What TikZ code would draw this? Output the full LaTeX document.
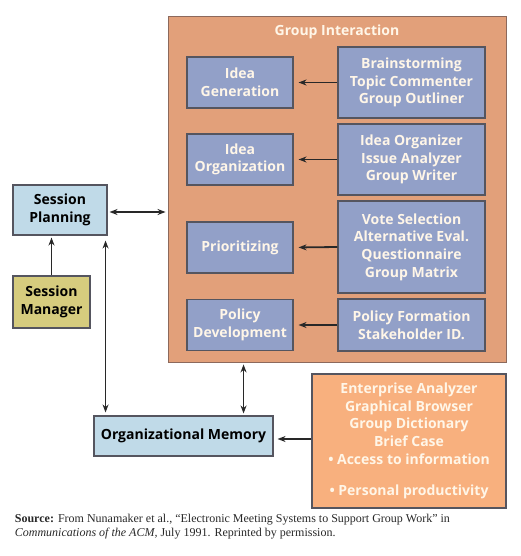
\documentclass[tikz,border=0pt]{standalone}
\usepackage{fontspec}
\setmainfont{Open Sans}
\newfontfamily\srcfont{Liberation Serif}
\usetikzlibrary{arrows.meta,calc,positioning}
\definecolor{fg}{RGB}{40,40,40}
\definecolor{grpfill}{RGB}{226,160,122}
\definecolor{grpedge}{RGB}{140,105,92}
\definecolor{toolblue}{RGB}{146,160,200}
\definecolor{edge}{RGB}{85,85,95}
\definecolor{planblue}{RGB}{192,218,232}
\definecolor{mgrkhaki}{RGB}{214,204,126}
\definecolor{entorange}{RGB}{248,176,126}
\definecolor{cream}{RGB}{255,246,232}
\tikzset{
  every picture/.style={fg, line width=1.8pt, x=1pt, y=-1pt,
    >={Stealth[length=8pt,width=6pt]}},
  % Kästen
  box/.style={draw=edge, line width=1.1pt, align=center, inner sep=0pt,
    font=\bfseries\fontsize{14}{17.7}\selectfont},
  act/.style={box, fill=toolblue, text=cream, minimum width=106pt, minimum height=51pt},
  tools/.style={box, fill=toolblue, text=cream, minimum width=147pt, minimum height=#1},
  tools/.default=71pt,
  plain/.style={box, text=black},
  % Verbindungen
  link/.style={line width=1.8pt, fg},
}

\begin{document}
\begin{tikzpicture}
  \useasboundingbox (0,0) rectangle (520,556);
  % Gruppeninteraktion
  \node[draw=grpedge, fill=grpfill, line width=0.9pt, minimum width=338pt, minimum height=346pt,
    inner sep=0pt] (grp) at (337,189) {};
  \node[text=cream, font=\bfseries\fontsize{14}{16}\selectfont] (grptitle) at (337,32) {Group Interaction};
  \node[act] (gen) at (240,82.5) {Idea\\Generation};
  \node[act] (org) at (240,159.5) {Idea\\Organization};
  \node[act] (pri) at (240,247.5) {Prioritizing};
  \node[act] (pol) at (240,325) {Policy\\Development};
  \node[tools] (brain) at (411.5,82.5) {Brainstorming\\Topic Commenter\\Group Outliner};
  \node[tools] (issue) at (411.5,159.5) {Idea Organizer\\Issue Analyzer\\Group Writer};
  \node[tools=92pt] (vote) at (411.5,247) {Vote Selection\\Alternative Eval.\\Questionnaire\\Group Matrix};
  \node[tools=52pt] (form) at (411.5,325) {Policy Formation\\Stakeholder ID.};
  \foreach \s/\t in {brain/gen, issue/org, vote/pri, form/pol}
    \draw[link, ->, shorten >=5pt] (\s.west) -- (\t.east);
  % linke Seite und Gedächtnis
  \node[plain, fill=planblue, minimum width=94pt, minimum height=50pt] (plan) at (60,210) {Session\\Planning};
  \node[plain, fill=mgrkhaki, minimum width=77pt, minimum height=52pt] (mgr) at (51.5,302) {Session\\Manager};
  \node[plain, fill=planblue, minimum width=179pt, minimum height=40pt] (mem) at (183.5,436) {Organizational Memory};
  \node[box, fill=entorange, text=cream, minimum width=194pt, minimum height=134pt] (ent) at (409,441)
    {Enterprise Analyzer\\Graphical Browser\\Group Dictionary\\Brief Case\\
     • Access to information\\[14pt] • Personal productivity};
  \coordinate (pm) at ($(plan.south east)+(-2,0)$);
  \coordinate (gm) at ($(mem.north east)+(-30,0)$);
  \draw[link, <->, shorten <=2pt, shorten >=2pt] (plan.east |- 0,212) -- (grp.west |- 0,212);
  \draw[link, ->, shorten >=2pt] (mgr.north) -- (mgr.north |- plan.south);
  \draw[link, <->, shorten <=5pt, shorten >=3pt] (pm) -- (pm |- mem.north);
  \draw[link, <->, shorten <=2pt, shorten >=2pt] (gm |- grp.south) -- (gm);
  \draw[link, ->, shorten >=4pt] (ent.west |- 0,439) -- (mem.east |- 0,439);
  % Quelle
  \node[anchor=north west, align=left, inner sep=0pt, font=\srcfont\fontsize{12}{14.3}\selectfont] (src) at (14,513)
    {\textbf{Source:} From Nunamaker et al., “Electronic Meeting Systems to Support Group Work” in\\
     \textit{Communications of the ACM,} July 1991. Reprinted by permission.};
\end{tikzpicture}
\end{document}
